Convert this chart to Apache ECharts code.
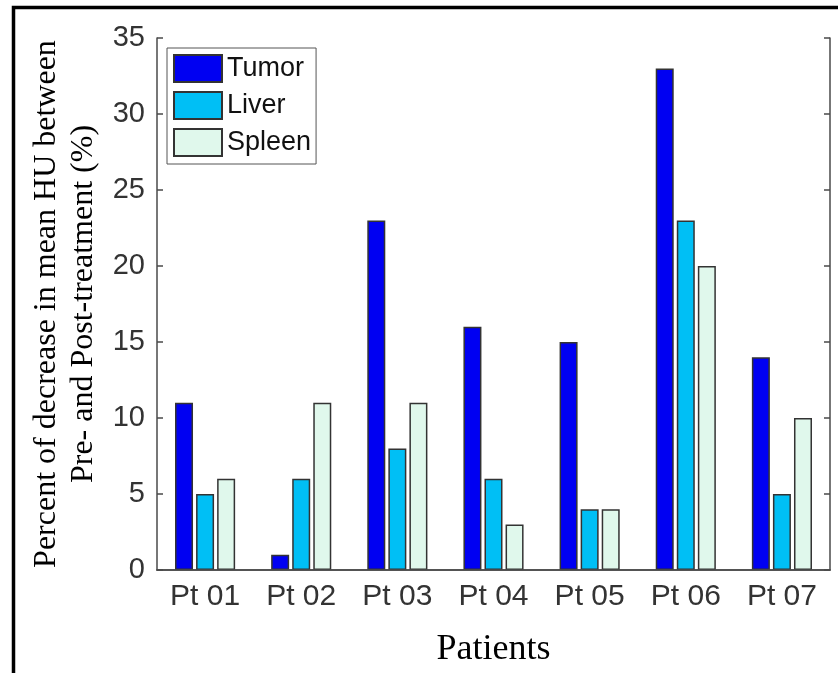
<!DOCTYPE html>
<html>
<head>
<meta charset="utf-8">
<script src="https://cdn.jsdelivr.net/npm/echarts@6/dist/echarts.min.js"></script>
<style>
html,body{margin:0;padding:0;background:#fff;}
#chart{width:838px;height:673px;}
</style>
</head>
<body>
<div id="chart"></div>
<script>
const categories = ['Pt 01','Pt 02','Pt 03','Pt 04','Pt 05','Pt 06','Pt 07'];
const tumor  = [11, 1, 23, 16, 15, 33, 14];
const liver  = [5, 6, 8, 6, 4, 23, 5];
const spleen = [6, 11, 11, 3, 4, 20, 10];
const seriesNames = ['Tumor','Liver','Spleen'];
const yTicks = {min: 0, max: 35, interval: 5};

const chart = echarts.init(document.getElementById('chart'), null, {renderer: 'canvas'});
const axisColor = '#4a4a4a';
const sans = 'Liberation Sans, Helvetica, Arial, sans-serif';
const serif = 'Liberation Serif, Times New Roman, serif';
const barStyle = (c) => ({color: c, borderColor: '#333', borderWidth: 1.5});

chart.setOption({
  animation: false,
  backgroundColor: '#fff',
  graphic: [{
    type: 'rect', z: 100, silent: true,
    shape: {x: 13.5, y: 7.5, width: 1000, height: 1000},
    style: {fill: 'none', stroke: '#000', lineWidth: 3.5}
  }],
  grid: {left: 157, right: 8, top: 38, bottom: 101, containLabel: false},
  legend: {
    data: seriesNames, orient: 'vertical', left: 167, top: 48,
    backgroundColor: '#fff', borderColor: '#555', borderWidth: 1,
    padding: [6, 5, 7, 6], itemWidth: 48, itemHeight: 27, itemGap: 8,
    icon: 'rect',
    textStyle: {fontSize: 27, fontFamily: sans, color: '#111'}
  },
  xAxis: [{
    type: 'category', data: categories, position: 'bottom', z: 10,
    axisLine: {lineStyle: {color: axisColor, width: 1.5}},
    axisTick: {inside: true, alignWithLabel: true, length: 5, lineStyle: {color: axisColor, width: 1.5}},
    axisLabel: {fontSize: 30, fontFamily: sans, color: '#333', margin: 12},
    name: 'Patients', nameLocation: 'middle', nameGap: 62,
    nameTextStyle: {fontSize: 36, fontFamily: serif, color: '#000'}
  }, {
    type: 'category', data: categories, position: 'top', z: 10,
    axisLine: {lineStyle: {color: axisColor, width: 1.5}},
    axisTick: {inside: true, alignWithLabel: true, length: 5, lineStyle: {color: axisColor, width: 1.5}},
    axisLabel: {show: false}
  }],
  yAxis: [{
    type: 'value', min: yTicks.min, max: yTicks.max, interval: yTicks.interval, position: 'left', z: 10,
    splitLine: {show: false},
    axisLine: {show: true, lineStyle: {color: axisColor, width: 1.5}},
    axisTick: {show: true, inside: true, length: 6, lineStyle: {color: axisColor, width: 1.5}},
    axisLabel: {fontSize: 29, fontFamily: sans, color: '#333', margin: 12},
    name: 'Percent of decrease in mean HU between\nPre- and Post-treatment (%)',
    nameLocation: 'middle', nameGap: 52, nameRotate: 90,
    nameTextStyle: {fontSize: 32, fontFamily: serif, color: '#000', lineHeight: 37, align: 'center'}
  }, {
    type: 'value', min: yTicks.min, max: yTicks.max, interval: yTicks.interval, position: 'right', z: 10,
    splitLine: {show: false},
    axisLine: {show: true, lineStyle: {color: axisColor, width: 1.5}},
    axisTick: {show: true, inside: true, length: 6, lineStyle: {color: axisColor, width: 1.5}},
    axisLabel: {show: false}
  }],
  series: [
    {name: seriesNames[0], type: 'bar', data: tumor, barWidth: 18, barGap: '17%', itemStyle: barStyle('#0000F2')},
    {name: seriesNames[1], type: 'bar', data: liver, barWidth: 18, barGap: '17%', itemStyle: barStyle('#00BFF5')},
    {name: seriesNames[2], type: 'bar', data: spleen, barWidth: 18, barGap: '17%', itemStyle: barStyle('#E0F8EC')}
  ]
});
</script>
</body>
</html>
